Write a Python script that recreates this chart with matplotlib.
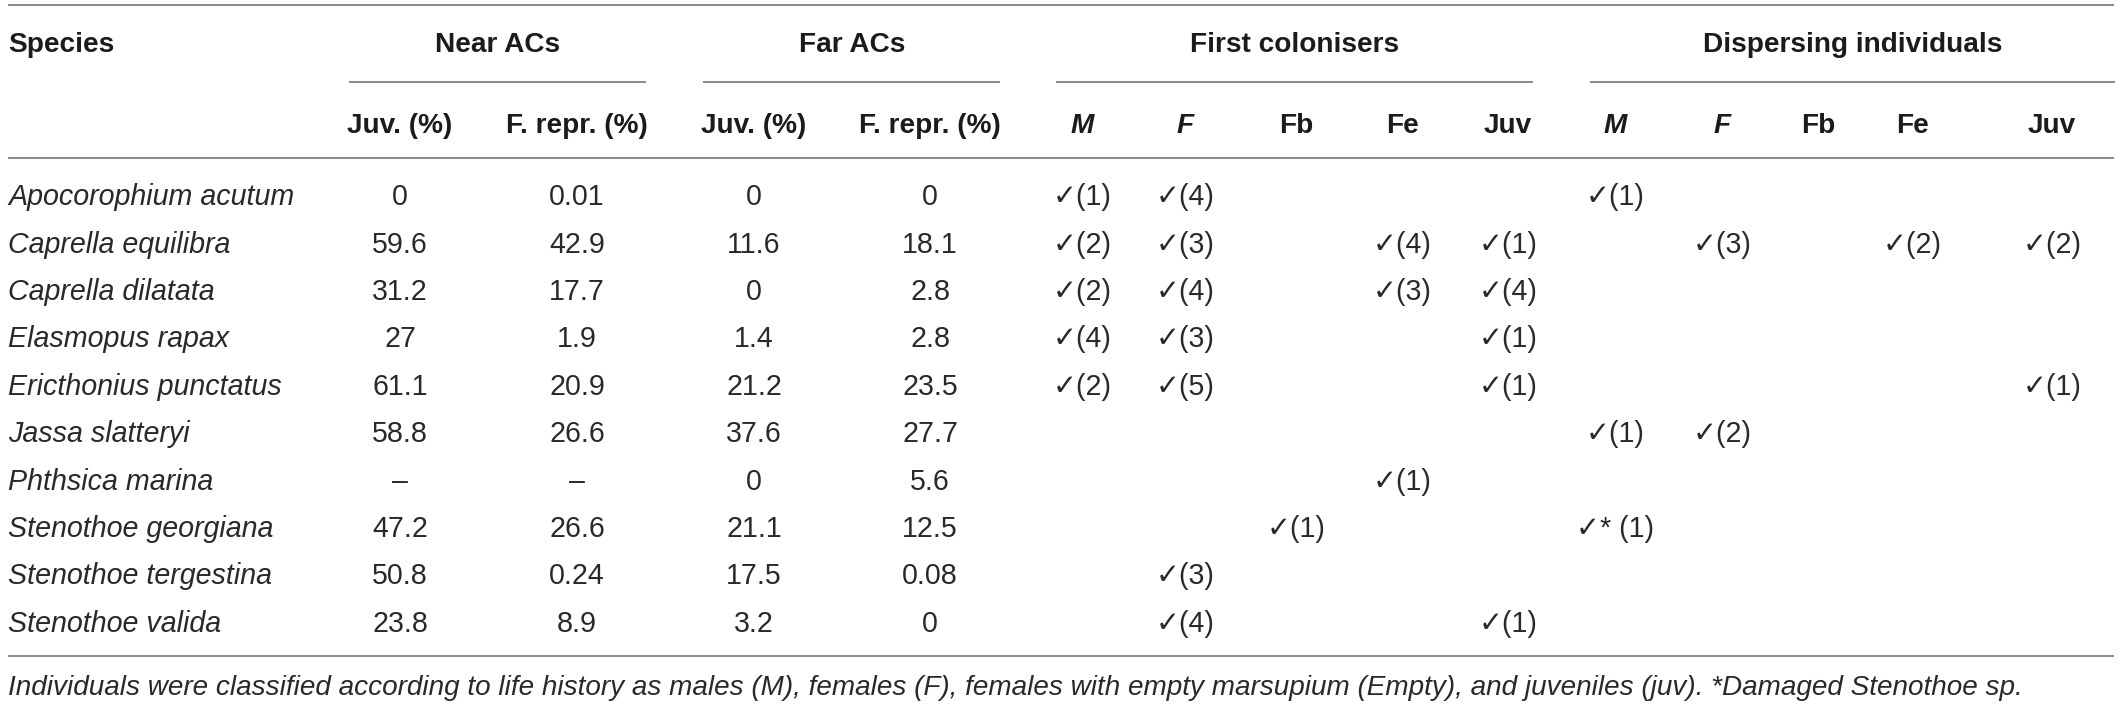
import matplotlib
matplotlib.use("Agg")
import matplotlib.pyplot as plt

# ---------------- data ----------------
species = ["Apocorophium acutum", "Caprella equilibra", "Caprella dilatata",
           "Elasmopus rapax", "Ericthonius punctatus", "Jassa slatteryi",
           "Phthsica marina", "Stenothoe georgiana", "Stenothoe tergestina",
           "Stenothoe valida"]
near_juv = ["0", "59.6", "31.2", "27", "61.1", "58.8", "–", "47.2", "50.8", "23.8"]
near_frepr = ["0.01", "42.9", "17.7", "1.9", "20.9", "26.6", "–", "26.6", "0.24", "8.9"]
far_juv = ["0", "11.6", "0", "1.4", "21.2", "37.6", "0", "21.1", "17.5", "3.2"]
far_frepr = ["0", "18.1", "2.8", "2.8", "23.5", "27.7", "5.6", "12.5", "0.08", "0"]

# counts of individuals (None = empty cell)
first_M = [1, 2, 2, 4, 2, None, None, None, None, None]
first_F = [4, 3, 4, 3, 5, None, None, None, 3, 4]
first_Fb = [None, None, None, None, None, None, None, 1, None, None]
first_Fe = [None, 4, 3, None, None, None, 1, None, None, None]
first_Juv = [None, 1, 4, 1, 1, None, None, None, None, 1]
disp_M = [1, None, None, None, None, 1, None, "*1", None, None]
disp_F = [None, 3, None, None, None, 2, None, None, None, None]
disp_Fb = [None] * 10
disp_Fe = [None, 2, None, None, None, None, None, None, None, None]
disp_Juv = [None, 2, None, None, 1, None, None, None, None, None]

group_labels = ["Near ACs", "Far ACs", "First colonisers", "Dispersing individuals"]
sub_labels = ["Juv. (%)", "F. repr. (%)", "Juv. (%)", "F. repr. (%)",
              "M", "F", "Fb", "Fe", "Juv", "M", "F", "Fb", "Fe", "Juv"]
sub_italic = [False, False, False, False, True, True, False, False, False,
              True, True, False, False, False]
footnote = ("Individuals were classified according to life history as males (M), "
            "females (F), females with empty marsupium (Empty), and juveniles (juv). "
            "*Damaged Stenothoe sp.")

# ---------------- layout (pixel space) ----------------
W, H = 2120, 704
fig = plt.figure(figsize=(W / 100, H / 100), dpi=100)
ax = fig.add_axes([0, 0, 1, 1])
ax.set_xlim(0, W)
ax.set_ylim(H, 0)
ax.axis("off")

FAM = ["Liberation Sans", "DejaVu Sans"]
FS_HEAD = 20.2
FS_BODY = 20.6
TXT_HEAD = "#1c1a1b"
TXT_BODY = "#2a2829"
LINE = "#8a8a8a"
LW = 1.4

col_x = [400, 577, 754, 930, 1082, 1185, 1296, 1402, 1508,
         1615, 1722, 1818, 1912, 2052]
group_x = [498, 852, 1295, 1853]
group_lines = [(349, 646), (703, 1000), (1056, 1533), (1590, 2115)]
left, right = 8, 2114

y_top_line = 5
y_group = 41.7
y_subline = 82
y_sub = 123.3
y_head_line = 158
row0, row_h = 195, 47.4
y_bottom_line = 656
y_foot = 685
foot_right = 2020
cap_half = 10  # half of the digit height in pixels at the header size

def put(x, y, s, ha="center", weight="normal", style="normal", size=FS_BODY, color=TXT_BODY):
    return ax.text(x, y + cap_half * size / FS_HEAD, s, ha=ha, va="baseline", fontsize=size,
                   family=FAM, fontweight=weight, fontstyle=style, color=color)

# rules
for y in (y_top_line, y_head_line, y_bottom_line):
    ax.plot([left, right], [y, y], color=LINE, lw=LW, solid_capstyle="butt")
for x0, x1 in group_lines:
    ax.plot([x0, x1], [y_subline, y_subline], color=LINE, lw=LW, solid_capstyle="butt")

# headers
put(left, y_group, "Species", ha="left", weight="bold", size=FS_HEAD, color=TXT_HEAD)
for gx, g in zip(group_x, group_labels):
    put(gx, y_group, g, weight="bold", size=FS_HEAD, color=TXT_HEAD)
for cx, s, it in zip(col_x, sub_labels, sub_italic):
    put(cx, y_sub, s, weight="bold", style="italic" if it else "normal",
        size=FS_HEAD, color=TXT_HEAD)

# body
def mark(v):
    if v is None:
        return None
    if isinstance(v, str) and v.startswith("*"):
        return "✓* (" + v[1:] + ")"
    return "✓(" + str(v) + ")"

num_cols = [near_juv, near_frepr, far_juv, far_frepr]
mark_cols = [first_M, first_F, first_Fb, first_Fe, first_Juv,
             disp_M, disp_F, disp_Fb, disp_Fe, disp_Juv]
for i, sp in enumerate(species):
    y = row0 + i * row_h
    put(left, y, sp, ha="left", style="italic")
    for cx, col in zip(col_x[:4], num_cols):
        put(cx, y, col[i])
    for cx, col in zip(col_x[4:], mark_cols):
        s = mark(col[i])
        if s:
            put(cx, y, s)

# footnote, sized so that it spans the same width as in the original
ft = put(left, y_foot, footnote, ha="left", style="italic", size=FS_BODY)
fig.canvas.draw()
bb = ft.get_window_extent(renderer=fig.canvas.get_renderer())
new_size = FS_BODY * (foot_right - left) / bb.width
ft.remove()
put(left, y_foot, footnote, ha="left", style="italic", size=new_size)

fig.savefig("out.png", dpi=100, facecolor="white")
